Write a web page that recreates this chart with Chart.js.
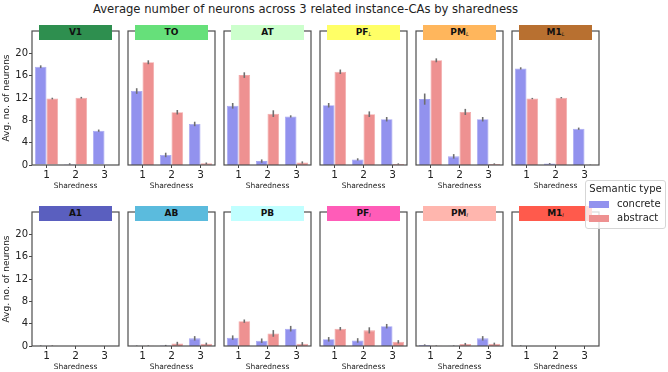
<!DOCTYPE html>
<html>
<head>
<meta charset="utf-8">
<script src="https://cdn.jsdelivr.net/npm/chart.js@4/dist/chart.umd.min.js"></script>
<style>
  html, body { margin: 0; padding: 0; background: #fff; }
  #fig { position: relative; width: 668px; height: 372px; overflow: hidden; font-family: "DejaVu Sans", sans-serif; }
  #fig canvas { position: absolute; }
  .ttl { position: absolute; top: 2px; left: 0; width: 611px; text-align: center; font-size: 11.6px; color: #222; white-space: nowrap; }
  .box { position: absolute; height: 15px; line-height: 15px; text-align: center; font-weight: bold; font-size: 9px; color: #111; }
  .box sub { font-size: 5px; font-weight: normal; font-style: italic; vertical-align: -1px; }
  .legend { position: absolute; left: 585px; top: 180px; width: 79px; height: 47px; border: 1px solid #d6d6d6; border-radius: 3px; background: rgba(255,255,255,0.8); font-size: 10px; color: #222; white-space: nowrap; }
  .legend .lt { position: absolute; left: 0; top: 2px; width: 100%; text-align: center; }
  .legend .patch { position: absolute; left: 3px; width: 20px; height: 7px; }
  .legend .lab { position: absolute; left: 31px; }
</style>
</head>
<body>
<div id="fig">
  <div class="ttl">Average number of neurons across 3 related instance-CAs by sharedness</div>
</div>
<script>
// ---------------- data ----------------
const sharedness = ['1', '2', '3'];
const regionNames = ['V1', 'TO', 'AT', 'PF', 'PM', 'M1', 'A1', 'AB', 'PB', 'PF', 'PM', 'M1'];
const regionSubs  = ['', '', '', 'L', 'L', 'L', '', '', '', 'I', 'I', 'I'];
const regionColors = ['#2e8f4f', '#66e07a', '#ccffcc', '#ffff66', '#ffb65c', '#b87030',
                      '#5a5fbf', '#5bbbdd', '#c0ffff', '#ff5cb8', '#ffb6ae', '#ff5a4c'];
const seriesNames = ['concrete', 'abstract'];
const concrete = [
  [17.6, 0.2, 6.15], [13.25, 1.8, 7.35], [10.6, 0.7, 8.7],
  [10.7, 1.0, 8.2], [11.8, 1.55, 8.2], [17.3, 0.25, 6.5],
  [0.05, 0, 0], [0.03, 0.1, 1.37], [1.5, 0.95, 3.1],
  [1.2, 1.0, 3.55], [0.2, 0.05, 1.37], [0.05, 0, 0]
];
const abstract = [
  [11.9, 12.05, 0], [18.4, 9.45, 0.3], [16.1, 9.2, 0.45],
  [16.7, 9.1, 0.2], [18.75, 9.5, 0.2], [11.9, 12.05, 0.05],
  [0.05, 0, 0], [0.05, 0.45, 0.4], [4.45, 2.25, 0.4],
  [3.1, 2.8, 0.75], [0.05, 0.35, 0.4], [0, 0, 0]
];
const concreteErr = [
  [0.25, 0.12, 0.2], [0.5, 0.4, 0.4], [0.5, 0.3, 0.2],
  [0.4, 0.2, 0.4], [1.0, 0.4, 0.4], [0.2, 0.1, 0.2],
  [0.05, 0, 0], [0.05, 0.1, 0.4], [0.4, 0.4, 0.5],
  [0.4, 0.4, 0.4], [0.1, 0.05, 0.4], [0.05, 0, 0]
];
const abstractErr = [
  [0.15, 0.15, 0], [0.35, 0.4, 0.15], [0.5, 0.6, 0.2],
  [0.4, 0.5, 0.1], [0.35, 0.55, 0.1], [0.12, 0.12, 0.03],
  [0.05, 0, 0], [0.05, 0.3, 0.2], [0.3, 0.6, 0.3],
  [0.3, 0.55, 0.3], [0.05, 0.2, 0.2], [0, 0, 0]
];
const yMax = 24;
const yLabelTicks = [0, 4, 8, 12, 16, 20];

// ---------------- styles / layout ----------------
const seriesColors = ['#9292ee', '#ee9191'];
const seriesEdges = ['#a6a6f2', '#f2a8a8'];
const errColor = '#6e6e6e';
const frameColor = '#4d4d4d';
const FONT = '"DejaVu Sans", sans-serif';
const panelLefts = [32, 128, 224, 320, 416, 512];
const rowTops = [31, 212];
const PW = 87, PH = 134;
const PAD_T = 12, PAD_R = 4, PAD_L = 4, X_H = 26, YAX_W = 32;

const errPlugin = {
  id: 'errbars',
  afterDatasetsDraw(chart) {
    const ctx = chart.ctx, ys = chart.scales.y;
    ctx.save();
    ctx.strokeStyle = errColor;
    ctx.lineWidth = 1.6;
    chart.data.datasets.forEach((ds, di) => {
      const meta = chart.getDatasetMeta(di);
      meta.data.forEach((el, i) => {
        const v = ds.data[i], e = ds.err[i];
        if (!e) return;
        ctx.beginPath();
        ctx.moveTo(el.x, ys.getPixelForValue(Math.max(0, v - e)));
        ctx.lineTo(el.x, ys.getPixelForValue(v + e));
        ctx.stroke();
      });
    });
    ctx.restore();
  }
};
const framePlugin = {
  id: 'frame',
  afterDraw(chart) {
    const a = chart.chartArea, ctx = chart.ctx;
    ctx.save();
    ctx.strokeStyle = frameColor;
    ctx.lineWidth = 1.2;
    ctx.strokeRect(a.left, a.top, a.right - a.left, a.bottom - a.top);
    ctx.restore();
  }
};

const fig = document.getElementById('fig');
for (let p = 0; p < 12; p++) {
  const row = Math.floor(p / 6), col = p % 6;
  const pl = panelLefts[col], pt = rowTops[row];
  const first = col === 0;
  const cLeft = first ? pl - YAX_W : pl - PAD_L;
  const cTop = pt - PAD_T;
  const cW = (pl - cLeft) + PW + PAD_R;
  const cH = PAD_T + PH + X_H;
  const cv = document.createElement('canvas');
  cv.width = cW; cv.height = cH;
  cv.style.left = cLeft + 'px'; cv.style.top = cTop + 'px';
  cv.style.width = cW + 'px'; cv.style.height = cH + 'px';
  fig.appendChild(cv);

  new Chart(cv, {
    type: 'bar',
    data: {
      labels: sharedness,
      datasets: [
        { label: seriesNames[0], data: concrete[p], err: concreteErr[p], backgroundColor: seriesColors[0], borderColor: seriesEdges[0], borderWidth: 0.8 },
        { label: seriesNames[1], data: abstract[p], err: abstractErr[p], backgroundColor: seriesColors[1], borderColor: seriesEdges[1], borderWidth: 0.8 }
      ]
    },
    options: {
      responsive: false,
      animation: false,
      devicePixelRatio: 1,
      layout: { padding: { left: first ? 0 : PAD_L, right: PAD_R, top: PAD_T, bottom: 0 } },
      datasets: { bar: { categoryPercentage: 0.8, barPercentage: 1.0 } },
      plugins: { legend: { display: false }, tooltip: { enabled: false } },
      scales: {
        x: {
          offset: true,
          grid: { display: true, offset: false, drawOnChartArea: false, tickLength: 3, tickColor: '#333', tickWidth: 0.9 },
          border: { display: false },
          ticks: { font: { family: FONT, size: 10.5 }, color: '#222', padding: 1, maxRotation: 0 },
          title: { display: true, text: 'Sharedness', font: { family: FONT, size: 7.5 }, color: '#222', padding: { top: 0, bottom: 0 } },
          afterFit: (s) => { s.height = X_H; }
        },
        y: {
          display: first,
          min: 0, max: yMax,
          grid: {
            display: true, drawOnChartArea: false, tickLength: 3,
            tickColor: (c) => c.tick && c.tick.value === yMax ? 'rgba(0,0,0,0)' : '#333',
            tickWidth: (c) => c.tick && yLabelTicks.includes(c.tick.value) ? 0.9 : 0.6
          },
          border: { display: false },
          ticks: {
            stepSize: 2, padding: 1, color: '#222', font: { family: FONT, size: 10 },
            callback: (v) => yLabelTicks.includes(v) ? String(v) : ''
          },
          title: { display: true, text: 'Avg. no. of neurons', font: { family: FONT, size: 9 }, color: '#222', padding: { top: 1, bottom: 1 } },
          afterFit: (s) => { s.width = first ? YAX_W : 0; }
        }
      }
    },
    plugins: [errPlugin, framePlugin]
  });

  const box = document.createElement('div');
  box.className = 'box';
  box.style.left = (pl + 7) + 'px';
  box.style.top = (pt - 6) + 'px';
  box.style.width = (PW - 14) + 'px';
  box.style.background = regionColors[p];
  box.innerHTML = regionNames[p] + (regionSubs[p] ? '<sub>' + regionSubs[p] + '</sub>' : '');
  fig.appendChild(box);
}

// legend
const lg = document.createElement('div');
lg.className = 'legend';
let html = '<div class="lt">Semantic type</div>';
seriesNames.forEach((n, i) => {
  const top = 19 + i * 14;
  html += '<div class="patch" style="top:' + (top + 1) + 'px;background:' + seriesColors[i] + '"></div>';
  html += '<div class="lab" style="top:' + (top - 2) + 'px">' + n + '</div>';
});
lg.innerHTML = html;
fig.appendChild(lg);
</script>
</body>
</html>
